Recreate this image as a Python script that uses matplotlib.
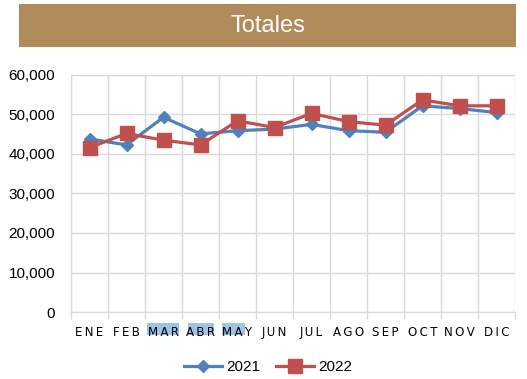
import matplotlib
matplotlib.use("Agg")
import matplotlib.pyplot as plt
from matplotlib.patches import Rectangle
import numpy as np

months = ["ENE", "FEB", "MAR", "ABR", "MAY", "JUN", "JUL", "AGO", "SEP", "OCT", "NOV", "DIC"]
s2021 = [43800, 42300, 49300, 45100, 45900, 46300, 47500, 45900, 45500, 52200, 51500, 50500]
s2022 = [41600, 45200, 43500, 42300, 48400, 46700, 50300, 48200, 47300, 53700, 52200, 52200]
yticks = [0, 10000, 20000, 30000, 40000, 50000, 60000]
title = "Totales"

W, H = 527, 379
fig = plt.figure(figsize=(W / 100, H / 100), dpi=100)
fig.patch.set_facecolor("white")

# title band
fig.patches.append(Rectangle((19 / W, 1 - 47 / H), (516 - 19) / W, (47 - 4) / H,
                             transform=fig.transFigure, facecolor="#B08B5B", edgecolor="none",
                             zorder=0))
fig.text(268 / W, 1 - 26 / H, title, color="white", fontsize=17,
         family="Liberation Sans", ha="center", va="center")

# selection highlight behind some month labels
for (x0, x1) in [(147, 179), (188, 214), (222, 245)]:
    fig.patches.append(Rectangle((x0 / W, 1 - 335 / H), (x1 - x0) / W, 12 / H,
                                 transform=fig.transFigure, facecolor="#9DC3E6",
                                 edgecolor="none", zorder=0))

ax = fig.add_axes([71 / W, 1 - 312 / H, (515 - 71) / W, (312 - 75) / H])
ax.set_zorder(2)
ax.patch.set_alpha(0)
x = np.arange(len(months))
grid_c = "#D9D9D9"

ax.plot(x, s2021, color="#4F81BD", lw=2.3, marker="D", ms=6, label="2021", zorder=3)
ax.plot(x, s2022, color="#C0504D", lw=2.3, marker="s", ms=9.5, label="2022", zorder=4)

ax.set_xlim(-0.5, len(months) - 0.5)
ax.set_ylim(0, 60000)
ax.set_yticks(yticks)
ax.set_yticklabels([f"{v:,}" for v in yticks], fontsize=11, family="Liberation Sans")
ax.tick_params(axis="y", length=0, pad=11.5)
ax.yaxis.grid(True, color=grid_c, lw=1)
ax.set_xticks(np.arange(len(months) + 1) - 0.5, minor=True)
ax.xaxis.grid(True, which="minor", color=grid_c, lw=1)
ax.set_xticks(x)
ax.set_xticklabels(["\u2009".join(m) for m in months], fontsize=8.5, family="DejaVu Sans")
ax.tick_params(axis="x", which="major", length=0, pad=10)
ax.tick_params(axis="x", which="minor", length=5, color=grid_c, width=1)
for s in ["top", "right"]:
    ax.spines[s].set_visible(False)
for s in ["left", "bottom"]:
    ax.spines[s].set_color(grid_c)

leg = fig.legend(loc="center", bbox_to_anchor=(268 / W, 1 - 367 / H), ncol=2, frameon=False,
                 prop={"family": "Liberation Sans", "size": 11}, handlelength=2.5,
                 columnspacing=1.0, handletextpad=0.3)

fig.savefig("out.png", dpi=100)
